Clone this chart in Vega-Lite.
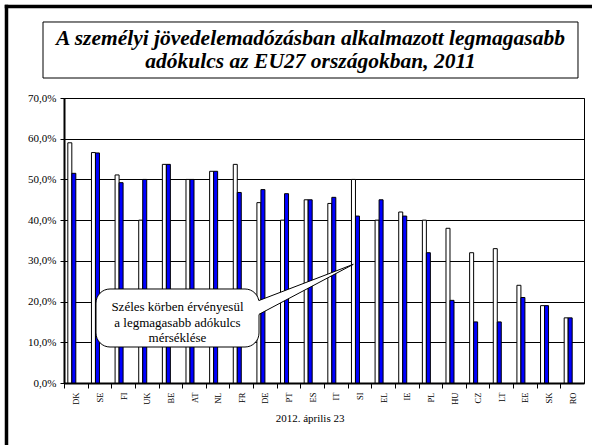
{
  "$schema": "https://vega.github.io/schema/vega-lite/v6.json",
  "width": 520,
  "height": 285,
  "autosize": {"type": "none"},
  "padding": {"left": 64, "top": 98, "right": 8, "bottom": 62},
  "background": "white",
  "config": {"view": {"stroke": "#000", "strokeWidth": 1}, "font": "'Liberation Serif', 'Times New Roman', serif"},
  "datasets": {
    "rates": [
      {"orszag": "DK", "ev": "2000", "kulcs": 59.0}, {"orszag": "DK", "ev": "2011", "kulcs": 51.5},
      {"orszag": "SE", "ev": "2000", "kulcs": 56.6}, {"orszag": "SE", "ev": "2011", "kulcs": 56.5},
      {"orszag": "FI", "ev": "2000", "kulcs": 51.1}, {"orszag": "FI", "ev": "2011", "kulcs": 49.2},
      {"orszag": "UK", "ev": "2000", "kulcs": 40.0}, {"orszag": "UK", "ev": "2011", "kulcs": 50.0},
      {"orszag": "BE", "ev": "2000", "kulcs": 53.7}, {"orszag": "BE", "ev": "2011", "kulcs": 53.7},
      {"orszag": "AT", "ev": "2000", "kulcs": 50.0}, {"orszag": "AT", "ev": "2011", "kulcs": 50.0},
      {"orszag": "NL", "ev": "2000", "kulcs": 52.0}, {"orszag": "NL", "ev": "2011", "kulcs": 52.0},
      {"orszag": "FR", "ev": "2000", "kulcs": 53.7}, {"orszag": "FR", "ev": "2011", "kulcs": 46.8},
      {"orszag": "DE", "ev": "2000", "kulcs": 44.3}, {"orszag": "DE", "ev": "2011", "kulcs": 47.5},
      {"orszag": "PT", "ev": "2000", "kulcs": 40.0}, {"orszag": "PT", "ev": "2011", "kulcs": 46.5},
      {"orszag": "ES", "ev": "2000", "kulcs": 45.0}, {"orszag": "ES", "ev": "2011", "kulcs": 45.0},
      {"orszag": "IT", "ev": "2000", "kulcs": 44.1}, {"orszag": "IT", "ev": "2011", "kulcs": 45.6},
      {"orszag": "SI", "ev": "2000", "kulcs": 50.0}, {"orszag": "SI", "ev": "2011", "kulcs": 41.0},
      {"orszag": "EL", "ev": "2000", "kulcs": 40.0}, {"orszag": "EL", "ev": "2011", "kulcs": 45.0},
      {"orszag": "IE", "ev": "2000", "kulcs": 42.0}, {"orszag": "IE", "ev": "2011", "kulcs": 41.0},
      {"orszag": "PL", "ev": "2000", "kulcs": 40.0}, {"orszag": "PL", "ev": "2011", "kulcs": 32.0},
      {"orszag": "HU", "ev": "2000", "kulcs": 38.0}, {"orszag": "HU", "ev": "2011", "kulcs": 20.3},
      {"orszag": "CZ", "ev": "2000", "kulcs": 32.0}, {"orszag": "CZ", "ev": "2011", "kulcs": 15.0},
      {"orszag": "LT", "ev": "2000", "kulcs": 33.0}, {"orszag": "LT", "ev": "2011", "kulcs": 15.0},
      {"orszag": "EE", "ev": "2000", "kulcs": 24.0}, {"orszag": "EE", "ev": "2011", "kulcs": 21.0},
      {"orszag": "SK", "ev": "2000", "kulcs": 19.0}, {"orszag": "SK", "ev": "2011", "kulcs": 19.0},
      {"orszag": "RO", "ev": "2000", "kulcs": 16.0}, {"orszag": "RO", "ev": "2011", "kulcs": 16.0}
    ],
    "frame": [
      {"u": -2.433, "p": 92.9, "u2": -2.433, "p2": -16},
      {"u": -2.507, "p": 92.47, "u2": 23, "p2": 92.47}
    ],
    "titlebox": [{"u": -0.888, "u2": 21.746, "p": 88.67, "p2": 74.91}],
    "titletext": [
      {"u": 10.43, "p": 84.49, "t": "A személyi jövedelemadózásban alkalmazott legmagasabb"},
      {"u": 10.43, "p": 78.84, "t": "adókulcs az EU27 országokban, 2011"}
    ],
    "callbox": [{"u": 1.354, "u2": 8.25, "p": 23.09, "p2": 8.84}],
    "wedge": [
      {"u": 8.05, "p": 19.81, "p2": 16.25},
      {"u": 8.25, "p": 20.26, "p2": 16.87},
      {"u": 12.24, "p": 29.15, "p2": 29.15}
    ],
    "wedgelines": [
      {"u": 8.25, "p": 20.26, "k": "a"}, {"u": 12.24, "p": 29.15, "k": "a"},
      {"u": 8.25, "p": 16.87, "k": "b"}, {"u": 12.24, "p": 29.15, "k": "b"}
    ],
    "calltext": [
      {"u": 4.80, "p": 18.74, "t": "Széles körben érvényesül"},
      {"u": 4.80, "p": 14.81, "t": "a legmagasabb adókulcs"},
      {"u": 4.80, "p": 10.98, "t": "mérséklése"}
    ],
    "footer": [{"u": 10.41, "p": -8.84, "t": "2012. április 23"}]
  },
  "layer": [
    {
      "data": {"name": "rates"},
      "mark": {"type": "bar", "stroke": "#000", "strokeWidth": 1},
      "encoding": {
        "x": {
          "field": "orszag", "type": "nominal", "sort": null,
          "scale": {"paddingInner": 0.323, "paddingOuter": 0.1615},
          "axis": {
            "title": null, "labelAngle": 270, "labelFont": "'Liberation Serif', 'Times New Roman', serif", "labelFontSize": 8.5,
            "labelColor": "#000", "tickColor": "#000", "tickSize": 5, "tickOffset": -11.818,
            "labelOffset": 11.818, "domainColor": "#000", "domainWidth": 2, "labelPadding": 4, "grid": false
          }
        },
        "xOffset": {"field": "ev", "type": "nominal", "scale": {"domain": ["2000", "2011", "c", "d"], "paddingInner": 0, "paddingOuter": 0}},
        "y": {
          "field": "kulcs", "type": "quantitative",
          "scale": {"domain": [0, 70], "nice": false, "zero": true},
          "axis": {
            "title": null, "values": [0, 10, 20, 30, 40, 50, 60, 70],
            "labelExpr": "replace(format(datum.value, '.1f'), '.', ',') + '%'",
            "grid": true, "gridColor": "#000", "gridWidth": 1,
            "domainColor": "#000", "domainWidth": 2, "tickColor": "#000", "tickSize": 4,
            "labelPadding": 4, "labelFont": "'Liberation Serif', 'Times New Roman', serif", "labelFontSize": 11, "labelColor": "#000"
          }
        },
        "fill": {"field": "ev", "type": "nominal", "scale": {"domain": ["2000", "2011"], "range": ["#ffffff", "#0000ff"]}, "legend": null}
      }
    },
    {
      "data": {"name": "frame"},
      "mark": {"type": "rule", "color": "#000", "strokeWidth": 3.5},
      "encoding": {
        "x": {"field": "u", "type": "quantitative", "scale": {"domain": [0, 22], "nice": false, "zero": false}, "axis": null},
        "x2": {"field": "u2"},
        "y": {"field": "p", "type": "quantitative", "scale": {"domain": [0, 70], "nice": false}, "axis": null},
        "y2": {"field": "p2"}
      }
    },
    {
      "data": {"name": "titlebox"},
      "mark": {"type": "rect", "fill": "#fff", "stroke": "#000", "strokeWidth": 1},
      "encoding": {
        "x": {"field": "u", "type": "quantitative", "scale": {"domain": [0, 22], "nice": false, "zero": false}, "axis": null},
        "x2": {"field": "u2"},
        "y": {"field": "p", "type": "quantitative", "scale": {"domain": [0, 70], "nice": false}, "axis": null},
        "y2": {"field": "p2"}
      }
    },
    {
      "data": {"name": "titletext"},
      "mark": {"type": "text", "font": "'Liberation Serif', 'Times New Roman', serif", "fontSize": 21.5, "fontWeight": "bold", "fontStyle": "italic", "align": "center", "baseline": "middle", "color": "#000"},
      "encoding": {
        "x": {"field": "u", "type": "quantitative", "scale": {"domain": [0, 22], "nice": false, "zero": false}, "axis": null},
        "y": {"field": "p", "type": "quantitative", "scale": {"domain": [0, 70], "nice": false}, "axis": null},
        "text": {"field": "t"}
      }
    },
    {
      "data": {"name": "callbox"},
      "mark": {"type": "rect", "fill": "#fff", "stroke": "#000", "strokeWidth": 1, "cornerRadius": 14},
      "encoding": {
        "x": {"field": "u", "type": "quantitative", "scale": {"domain": [0, 22], "nice": false, "zero": false}, "axis": null},
        "x2": {"field": "u2"},
        "y": {"field": "p", "type": "quantitative", "scale": {"domain": [0, 70], "nice": false}, "axis": null},
        "y2": {"field": "p2"}
      }
    },
    {
      "data": {"name": "wedge"},
      "mark": {"type": "area", "fill": "#fff", "opacity": 1},
      "encoding": {
        "x": {"field": "u", "type": "quantitative", "scale": {"domain": [0, 22], "nice": false, "zero": false}, "axis": null},
        "y": {"field": "p", "type": "quantitative", "scale": {"domain": [0, 70], "nice": false}, "axis": null},
        "y2": {"field": "p2"}
      }
    },
    {
      "data": {"name": "wedgelines"},
      "mark": {"type": "line", "color": "#000", "strokeWidth": 1},
      "encoding": {
        "x": {"field": "u", "type": "quantitative", "scale": {"domain": [0, 22], "nice": false, "zero": false}, "axis": null},
        "y": {"field": "p", "type": "quantitative", "scale": {"domain": [0, 70], "nice": false}, "axis": null},
        "detail": {"field": "k"}
      }
    },
    {
      "data": {"name": "calltext"},
      "mark": {"type": "text", "font": "'Liberation Serif', 'Times New Roman', serif", "fontSize": 13, "align": "center", "baseline": "middle", "color": "#000"},
      "encoding": {
        "x": {"field": "u", "type": "quantitative", "scale": {"domain": [0, 22], "nice": false, "zero": false}, "axis": null},
        "y": {"field": "p", "type": "quantitative", "scale": {"domain": [0, 70], "nice": false}, "axis": null},
        "text": {"field": "t"}
      }
    },
    {
      "data": {"name": "footer"},
      "mark": {"type": "text", "font": "'Liberation Serif', 'Times New Roman', serif", "fontSize": 11, "align": "center", "baseline": "middle", "color": "#000"},
      "encoding": {
        "x": {"field": "u", "type": "quantitative", "scale": {"domain": [0, 22], "nice": false, "zero": false}, "axis": null},
        "y": {"field": "p", "type": "quantitative", "scale": {"domain": [0, 70], "nice": false}, "axis": null},
        "text": {"field": "t"}
      }
    }
  ],
  "resolve": {"scale": {"x": "independent", "y": "independent"}}
}
